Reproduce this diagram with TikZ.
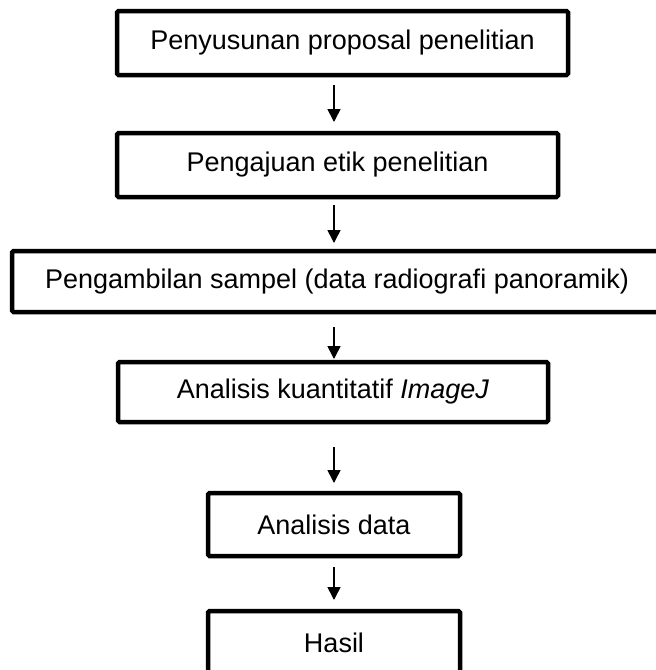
\documentclass[tikz,border=0pt]{standalone}
\usepackage{fontspec}
\setmainfont{Liberation Sans}
\usetikzlibrary{positioning,arrows.meta}

\begin{document}
\begin{tikzpicture}[x=1pt, y=1pt,
    stage/.style={draw, line width=4.5pt, rounded corners=1.5pt, inner sep=0pt,
      outer sep=0pt, minimum height=63pt, align=center,
      font=\fontsize{27}{32}\selectfont},
    flow/.style={-{Triangle[length=13pt, width=13pt]}, line width=1.6pt}]

    \useasboundingbox (0,0) rectangle (656,-670);

    % Define nodes
    \node[stage, minimum width=451pt, minimum height=64pt] (plan) at (342.5,-43)
      {Penyusunan proposal penelitian};
    \node[stage, minimum width=441pt, minimum height=64pt, below=58pt of plan,
      xshift=-5pt] (ethic) {Pengajuan etik penelitian};
    \node[stage, minimum width=650pt, minimum height=61pt, below=54pt of ethic,
      xshift=-0.5pt] (sample) {Pengambilan sampel (data radiografi panoramik)};
    \node[stage, minimum width=430pt, minimum height=60pt, below=50pt of sample,
      xshift=-4pt] (imagej) {Analisis kuantitatif \textit{ImageJ}};
    \node[stage, minimum width=252pt, below=71pt of imagej, xshift=1pt] (data)
      {Analisis data};
    \node[stage, minimum width=252pt, below=55pt of data] (result) {Hasil};

    % Connect the nodes
    \draw[flow, shorten <=10pt, shorten >=11pt] (plan.south -| data) -- (ethic.north -| data);
    \draw[flow, shorten <=8pt, shorten >=8pt] (ethic.south -| data) -- (sample.north -| data);
    \draw[flow, shorten <=15pt, shorten >=3pt] (sample.south -| data) -- (imagej.north -| data);
    \draw[flow, shorten <=25pt, shorten >=10pt] (imagej.south -| data) -- (data.north);
    \draw[flow, shorten <=11pt, shorten >=11pt] (data.south) -- (result.north);

\end{tikzpicture}
\end{document}
